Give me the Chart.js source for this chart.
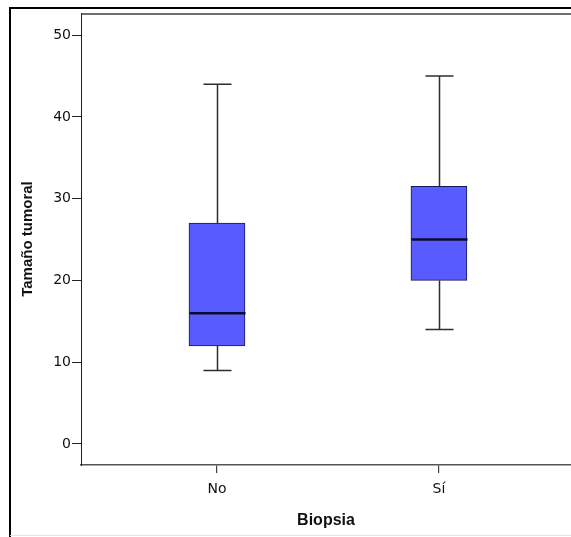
<!DOCTYPE html>
<html>
<head>
<meta charset="utf-8">
<script src="https://cdn.jsdelivr.net/npm/chart.js@4"></script>
<style>
  html, body { margin: 0; padding: 0; background: #fff; overflow: hidden; }
  canvas { display: block; }
</style>
</head>
<body>
<canvas id="c" width="571" height="537"></canvas>
<script>
// Tumour size by biopsy group: five-number summaries
const categories = ['No', 'Sí'];
const mins    = [9, 14];
const q1s     = [12, 20];
const medians = [16, 25];
const q3s     = [27, 31.5];
const maxs    = [44, 45];
const yTicks  = [0, 10, 20, 30, 40, 50];

const boxFill   = '#585cff';
const boxEdge   = '#16165a';
const whiskerCo = '#2e2e2e';

// whiskers, caps and median lines drawn from the scales
const boxExtras = {
  id: 'boxExtras',
  afterDatasetsDraw(chart) {
    const { ctx, scales: { x, y } } = chart;
    const halfBox = 28, halfCap = 14;
    ctx.save();
    categories.forEach((_, i) => {
      const cx = Math.round(x.getPixelForValue(i)) + 0.5;
      ctx.strokeStyle = whiskerCo;
      ctx.lineWidth = 1.5;
      ctx.beginPath();
      ctx.moveTo(cx, y.getPixelForValue(maxs[i]));
      ctx.lineTo(cx, y.getPixelForValue(q3s[i]));
      ctx.moveTo(cx, y.getPixelForValue(q1s[i]));
      ctx.lineTo(cx, y.getPixelForValue(mins[i]));
      ctx.moveTo(cx - halfCap, y.getPixelForValue(maxs[i]));
      ctx.lineTo(cx + halfCap, y.getPixelForValue(maxs[i]));
      ctx.moveTo(cx - halfCap, y.getPixelForValue(mins[i]));
      ctx.lineTo(cx + halfCap, y.getPixelForValue(mins[i]));
      ctx.stroke();
      ctx.strokeStyle = '#0b0b30';
      ctx.lineWidth = 2.5;
      ctx.beginPath();
      ctx.moveTo(cx - halfBox, y.getPixelForValue(medians[i]));
      ctx.lineTo(cx + halfBox, y.getPixelForValue(medians[i]));
      ctx.stroke();
    });
    ctx.restore();
  }
};

// page frame and the top edge of the plot area
const frame = {
  id: 'frame',
  beforeDraw(chart) {
    const { ctx, chartArea: a, width, height } = chart;
    ctx.save();
    ctx.fillStyle = '#fff';
    ctx.fillRect(0, 0, width, height);
    ctx.strokeStyle = '#000';
    ctx.lineWidth = 2;
    ctx.beginPath();
    ctx.moveTo(10, height);
    ctx.lineTo(10, 8);
    ctx.lineTo(width, 8);
    ctx.stroke();
    ctx.strokeStyle = '#e2e2e2';
    ctx.lineWidth = 1;
    ctx.beginPath();
    ctx.moveTo(10, height - 1.5);
    ctx.lineTo(width, height - 1.5);
    ctx.stroke();
    ctx.strokeStyle = '#6e6e6e';
    ctx.lineWidth = 2;
    ctx.beginPath();
    ctx.moveTo(a.left, a.top + 1);
    ctx.lineTo(width, a.top + 1);
    ctx.stroke();
    ctx.restore();
  }
};

new Chart(document.getElementById('c'), {
  type: 'bar',
  data: {
    datasets: [{
      data: categories.map((_, i) => ({ x: i, y: [q1s[i], q3s[i]] })),
      backgroundColor: boxFill,
      borderColor: boxEdge,
      borderWidth: 1,
      borderSkipped: false,
      barThickness: 56
    }]
  },
  options: {
    responsive: false,
    devicePixelRatio: 1,
    animation: false,
    layout: { padding: { top: 13, right: 0, bottom: 0, left: 0 } },
    plugins: { legend: { display: false }, tooltip: { enabled: false } },
    scales: {
      x: {
        type: 'linear',
        offset: false,
        min: -0.6126,
        max: 1.595,
        afterBuildTicks: s => { s.ticks = categories.map((_, i) => ({ value: i })); },
        afterFit: s => { s.height = 72; },
        ticks: {
          callback: v => categories[v],
          color: '#111',
          font: { family: 'DejaVu Sans', size: 14 },
          padding: 8,
          maxRotation: 0
        },
        grid: { offset: false, drawOnChartArea: false, drawTicks: true, tickLength: 8, color: '#444', lineWidth: 1.2 },
        border: { display: true, color: '#555', width: 1.6 },
        title: {
          display: true,
          text: 'Biopsia',
          color: '#111',
          font: { family: 'Liberation Sans', size: 16, weight: 'bold' },
          padding: { top: 0, bottom: 7 }
        }
      },
      y: {
        type: 'linear',
        min: -2.57,
        max: 52.7,
        afterBuildTicks: s => { s.ticks = yTicks.map(v => ({ value: v })); },
        afterFit: s => { s.width = 81; },
        ticks: {
          color: '#111',
          font: { family: 'DejaVu Sans', size: 14 },
          padding: 1
        },
        grid: { drawOnChartArea: false, drawTicks: true, tickLength: 9, color: '#222', lineWidth: 1 },
        border: { display: true, color: '#222', width: 1 },
        title: {
          display: true,
          text: 'Tamaño tumoral',
          color: '#111',
          font: { family: 'Liberation Sans', size: 15, weight: 'bold' },
          padding: { top: 19, bottom: 0 }
        }
      }
    }
  },
  plugins: [frame, boxExtras]
});
</script>
</body>
</html>
